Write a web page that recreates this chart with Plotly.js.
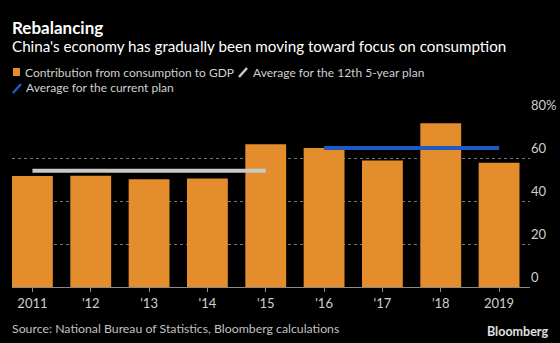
<!DOCTYPE html>
<html>
<head>
<meta charset="utf-8">
<script src="https://cdn.plot.ly/plotly-3.0.1.min.js"></script>
<style>
  html, body { margin: 0; padding: 0; background: #000; }
  #chart { width: 560px; height: 343px; }
</style>
</head>
<body>
<div id="chart"></div>
<script>
// ---- data ----
const years = ["2011", "'12", "'13", "'14", "'15", "'16", "'17", "'18", "2019"];
const consumption = [51.6, 51.8, 50.1, 50.5, 66.4, 64.6, 58.8, 76.2, 57.8];
const plan12Years = ["2011", "'15"];
const plan12Avg = [54.1, 54.1];
const currentYears = ["'16", "2019"];
const currentAvg = [64.6, 64.6];
const yTicks = [0, 20, 40, 60, 80];
const yTickText = ["0", "20", "40", "60", "80%"];

const FONT = "Lato, Noto Sans, sans-serif";
const ORANGE = "#e38d2c";
const BLUE = "#1f5ac4";
const GREY = "#c9c9c9";

const traces = [
  {
    type: "bar", x: years, y: consumption,
    marker: { color: ORANGE }, hoverinfo: "skip"
  },
  {
    type: "scatter", mode: "lines", x: plan12Years, y: plan12Avg,
    line: { color: GREY, width: 4 }, hoverinfo: "skip"
  },
  {
    type: "scatter", mode: "lines", x: currentYears, y: currentAvg,
    line: { color: BLUE, width: 4 }, hoverinfo: "skip"
  }
];

const layout = {
  width: 560, height: 343,
  paper_bgcolor: "#000", plot_bgcolor: "#000",
  margin: { l: 12, r: 30, t: 115, b: 56 },
  showlegend: false,
  bargap: 0.3,
  font: { family: FONT, color: "#c8c8c8", size: 12 },
  xaxis: {
    type: "category",
    range: [-0.35, 8.53],
    showgrid: false,
    showline: true, linecolor: "#8a8a8a", linewidth: 1,
    ticks: "outside", ticklen: 4, tickcolor: "#8a8a8a",
    tickfont: { family: FONT, size: 13, color: "#cfcfcf" },
    fixedrange: true
  },
  yaxis: {
    range: [0, 80],
    side: "right",
    tickvals: yTicks, ticktext: yTickText,
    ticklabelposition: "outside top",
    showgrid: true, gridcolor: "#777777", griddash: "dot", gridwidth: 1,
    zeroline: false,
    ticks: "",
    tickfont: { family: FONT, size: 13, color: "#cfcfcf" },
    fixedrange: true
  },
  annotations: [
    { xref: "paper", yref: "paper", x: 0, y: 1, xanchor: "left", yanchor: "middle",
      text: "<b>Rebalancing</b>", showarrow: false,
      font: { family: FONT, size: 17, color: "#ffffff" } },
    { xref: "paper", yref: "paper", x: 0, y: 1, xanchor: "left", yanchor: "middle",
      text: "China's economy has gradually been moving toward focus on consumption", showarrow: false,
      font: { family: FONT, size: 15.2, color: "#ffffff" } },
    { xref: "paper", yref: "paper", x: 0, y: 1, xanchor: "left", yanchor: "middle",
      text: "Contribution from consumption to GDP", showarrow: false,
      font: { family: FONT, size: 12, color: "#d0d0d0" } },
    { xref: "paper", yref: "paper", x: 0, y: 1, xanchor: "left", yanchor: "middle",
      text: "Average for the 12th 5-year plan", showarrow: false,
      font: { family: FONT, size: 12, color: "#d0d0d0" } },
    { xref: "paper", yref: "paper", x: 0, y: 1, xanchor: "left", yanchor: "middle",
      text: "Average for the current plan", showarrow: false,
      font: { family: FONT, size: 12, color: "#d0d0d0" } },
    { xref: "paper", yref: "paper", x: 0, y: 0, xanchor: "left", yanchor: "middle",
      text: "Source: National Bureau of Statistics, Bloomberg calculations", showarrow: false,
      font: { family: FONT, size: 12.3, color: "#c0c0c0" } },
    { xref: "paper", yref: "paper", x: 1, y: 0, xanchor: "right", yanchor: "middle",
      text: "<b>Bloomberg</b>", showarrow: false,
      font: { family: FONT, size: 12.5, color: "#e0e0e0" } }
  ],
  shapes: []
};

// Position header/footer items in pixel space converted to paper coords
const W = 560, H = 343;
const pl = layout.margin.l, pr = layout.margin.r, pt = layout.margin.t, pb = layout.margin.b;
const pw = W - pl - pr, ph = H - pt - pb;
const px = x => (x - pl) / pw;
const py = y => (H - pb - y) / ph;

const pos = [
  [10, 27], [10, 46], [23, 72], [251, 72], [24, 88], [10, 328], [550, 331]
];
pos.forEach((p, i) => {
  layout.annotations[i].x = px(p[0]);
  layout.annotations[i].y = py(p[1]);
});

layout.shapes.push(
  { type: "rect", xref: "paper", yref: "paper",
    x0: px(13), x1: px(20), y0: py(76), y1: py(68),
    fillcolor: ORANGE, line: { width: 0 } },
  { type: "line", xref: "paper", yref: "paper",
    x0: px(239), x1: px(247), y0: py(77), y1: py(68),
    line: { color: GREY, width: 2.5 } },
  { type: "line", xref: "paper", yref: "paper",
    x0: px(13), x1: px(21), y0: py(93), y1: py(84),
    line: { color: BLUE, width: 2.5 } }
);

Plotly.newPlot("chart", traces, layout, { displayModeBar: false, staticPlot: true });
</script>
</body>
</html>
